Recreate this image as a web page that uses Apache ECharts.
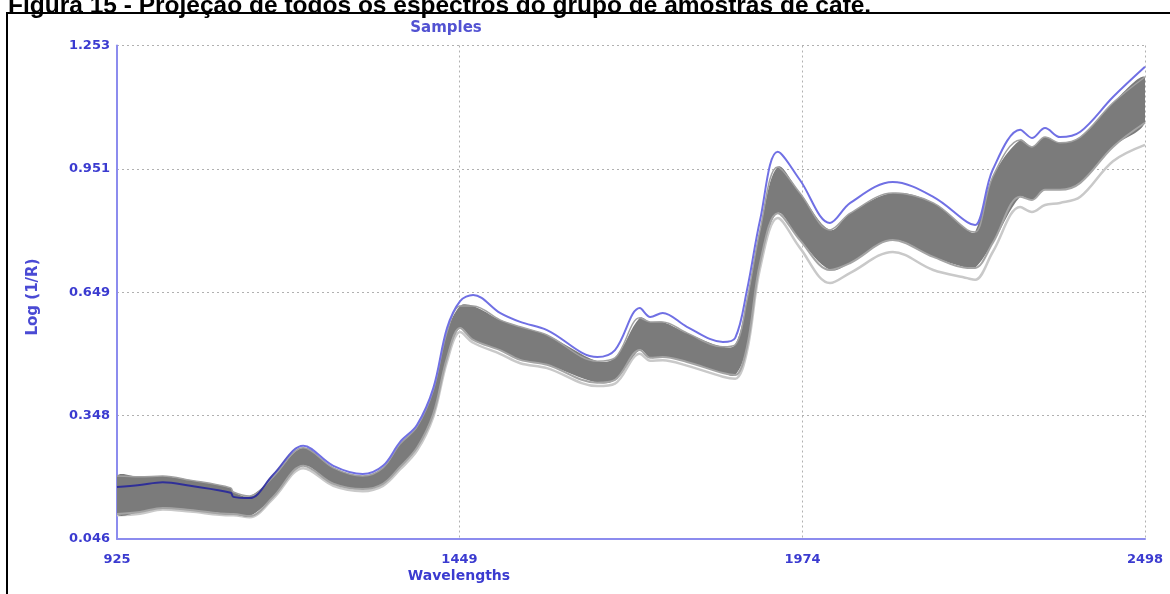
<!DOCTYPE html>
<html>
<head>
<meta charset="utf-8">
<title>Samples</title>
<script src="https://cdn.jsdelivr.net/npm/echarts@6/dist/echarts.min.js"></script>
<style>
  html, body { margin: 0; padding: 0; background: #ffffff; }
  #chart { width: 1170px; height: 594px; }
</style>
</head>
<body>
<div id="chart"></div>
<script>
// Wavelengths (nm) at which the spectra are sampled
const wavelengths = [925, 960, 995, 1037, 1099, 1103, 1128, 1164, 1210, 1256, 1301, 1332, 1358, 1384, 1409, 1430, 1450, 1470, 1511, 1542, 1583, 1660, 1687, 1725, 1741, 1760, 1797, 1852, 1871, 1889, 1909, 1936, 1970, 2016, 2047, 2112, 2174, 2226, 2238, 2265, 2307, 2325, 2345, 2368, 2399, 2449, 2498];

// Highlighted spectrum (uppermost sample), log(1/R)
const upperSample = [0.173, 0.178, 0.185, 0.176, 0.159, 0.149, 0.146, 0.203, 0.274, 0.225, 0.205, 0.225, 0.283, 0.325, 0.415, 0.562, 0.628, 0.643, 0.599, 0.577, 0.557, 0.491, 0.508, 0.611, 0.589, 0.599, 0.565, 0.528, 0.538, 0.655, 0.826, 0.993, 0.924, 0.819, 0.868, 0.919, 0.883, 0.821, 0.814, 0.949, 1.047, 1.027, 1.051, 1.029, 1.042, 1.127, 1.201];

// Upper and lower envelope of the bulk of the sample spectra
const bandTop = [0.200, 0.198, 0.200, 0.190, 0.171, 0.161, 0.151, 0.198, 0.269, 0.220, 0.200, 0.220, 0.278, 0.320, 0.410, 0.552, 0.616, 0.616, 0.582, 0.565, 0.545, 0.481, 0.489, 0.587, 0.577, 0.577, 0.550, 0.516, 0.521, 0.631, 0.802, 0.956, 0.892, 0.802, 0.843, 0.892, 0.868, 0.802, 0.797, 0.932, 1.022, 1.005, 1.029, 1.015, 1.029, 1.113, 1.176];
const bandBottom = [0.107, 0.112, 0.122, 0.117, 0.107, 0.107, 0.102, 0.149, 0.225, 0.181, 0.168, 0.181, 0.222, 0.269, 0.352, 0.489, 0.562, 0.533, 0.508, 0.484, 0.472, 0.428, 0.435, 0.508, 0.489, 0.491, 0.479, 0.452, 0.447, 0.516, 0.721, 0.843, 0.777, 0.704, 0.721, 0.777, 0.736, 0.709, 0.709, 0.770, 0.883, 0.875, 0.900, 0.900, 0.917, 1.005, 1.064];

// Lowest (lighter) sample spectrum below the bulk
const lowerSample = [0.104, 0.108, 0.118, 0.113, 0.104, 0.104, 0.099, 0.145, 0.219, 0.176, 0.163, 0.176, 0.216, 0.262, 0.345, 0.480, 0.552, 0.526, 0.499, 0.476, 0.464, 0.420, 0.426, 0.499, 0.482, 0.483, 0.470, 0.443, 0.438, 0.505, 0.708, 0.831, 0.758, 0.672, 0.697, 0.748, 0.704, 0.684, 0.680, 0.748, 0.858, 0.846, 0.863, 0.868, 0.883, 0.970, 1.010];

// Axis tick values
const xTicks = [925, 1449, 1974, 2498];
const yTicks = [0.046, 0.348, 0.649, 0.951, 1.253];

const captionText = 'Figura 15 - Projeção de todos os espectros do grupo de amostras de café.';

const SMOOTH = 0.35;
const pairs = (ys) => wavelengths.map((w, i) => [w, ys[i]]);

const axisBlue = '#8c8cee';
const labelBlue = '#3b3bd0';
const labelFont = { color: labelBlue, fontWeight: 'bold', fontFamily: 'DejaVu Sans', fontSize: 13 };

const chart = echarts.init(document.getElementById('chart'), null, { renderer: 'canvas' });

// Filled envelope of the sample spectra, built from the top and bottom edges
function renderBand(params, api) {
  const upper = wavelengths.map((w, i) => api.coord([w, bandTop[i]]));
  const lower = wavelengths.map((w, i) => api.coord([w, bandBottom[i]])).reverse();
  return {
    type: 'polygon',
    shape: { points: upper.concat(lower), smooth: SMOOTH },
    style: { fill: '#7b7b7b', stroke: null }
  };
}

const lineSeries = (name, ys, style, z) => ({
  name, type: 'line', data: pairs(ys), smooth: SMOOTH,
  symbol: 'none', lineStyle: style, z
});

chart.setOption({
  backgroundColor: '#ffffff',
  animation: false,
  grid: { left: 117, right: 25, top: 45.5, bottom: 55, containLabel: false },
  xAxis: {
    type: 'value',
    min: 925,
    max: 2498,
    axisLine: { show: true, lineStyle: { color: axisBlue, width: 2 } },
    axisTick: { show: false, customValues: xTicks },
    axisLabel: Object.assign({ customValues: xTicks, margin: 14, formatter: v => String(v) }, labelFont),
    splitLine: { show: true, lineStyle: { color: '#b0b0b0', type: [2, 3], width: 1 } }
  },
  yAxis: {
    type: 'value',
    min: 0.046,
    max: 1.253,
    axisLine: { show: true, lineStyle: { color: axisBlue, width: 2 } },
    axisTick: { show: false, customValues: yTicks },
    axisLabel: Object.assign({ customValues: yTicks, margin: 7, formatter: v => v.toFixed(3) }, labelFont),
    splitLine: { show: true, lineStyle: { color: '#b0b0b0', type: [2, 3], width: 1 } }
  },
  graphic: [
    {
      type: 'rect', z: -10, silent: true,
      shape: { x: 7, y: 13, width: 1200, height: 620 },
      style: { fill: null, stroke: '#000000', lineWidth: 2 }
    },
    {
      type: 'text', x: 8, y: 6, silent: true,
      style: { text: captionText, font: 'bold 24.5px "Liberation Sans", Arial, sans-serif', fill: '#000000', verticalAlign: 'middle' }
    },
    {
      type: 'text', x: 446, y: 28, silent: true,
      style: { text: 'Samples', font: 'bold 15px "DejaVu Sans"', fill: '#5252d2', align: 'center', verticalAlign: 'middle' }
    },
    {
      type: 'text', x: 459, y: 576, silent: true,
      style: { text: 'Wavelengths', font: 'bold 14px "DejaVu Sans"', fill: labelBlue, align: 'center', verticalAlign: 'middle' }
    },
    {
      type: 'text', x: 33, y: 297, rotation: Math.PI / 2, silent: true,
      style: { text: 'Log (1/R)', font: 'bold 15px "DejaVu Sans"', fill: '#4a4ad4', align: 'center', verticalAlign: 'middle' }
    }
  ],
  series: [
    lineSeries('lower sample', lowerSample, { color: '#c9c9c9', width: 2.5 }, 2),
    {
      name: 'samples',
      type: 'custom',
      renderItem: renderBand,
      data: [[wavelengths[0], bandTop[0]]],
      clip: true,
      z: 3
    },
    lineSeries('band bottom', bandBottom, { color: '#a4a4a4', width: 2 }, 4),
    lineSeries('band top', bandTop, { color: '#a0a0a0', width: 1.5 }, 4),
    lineSeries('upper sample', upperSample, {
      width: 2,
      color: {
        type: 'linear', x: 0, y: 0, x2: 1, y2: 0,
        colorStops: [
          { offset: 0, color: '#2f2f98' },
          { offset: 0.14, color: '#2f2f98' },
          { offset: 0.18, color: '#7070e4' },
          { offset: 1, color: '#7070e4' }
        ]
      }
    }, 5)
  ]
});
</script>
</body>
</html>
